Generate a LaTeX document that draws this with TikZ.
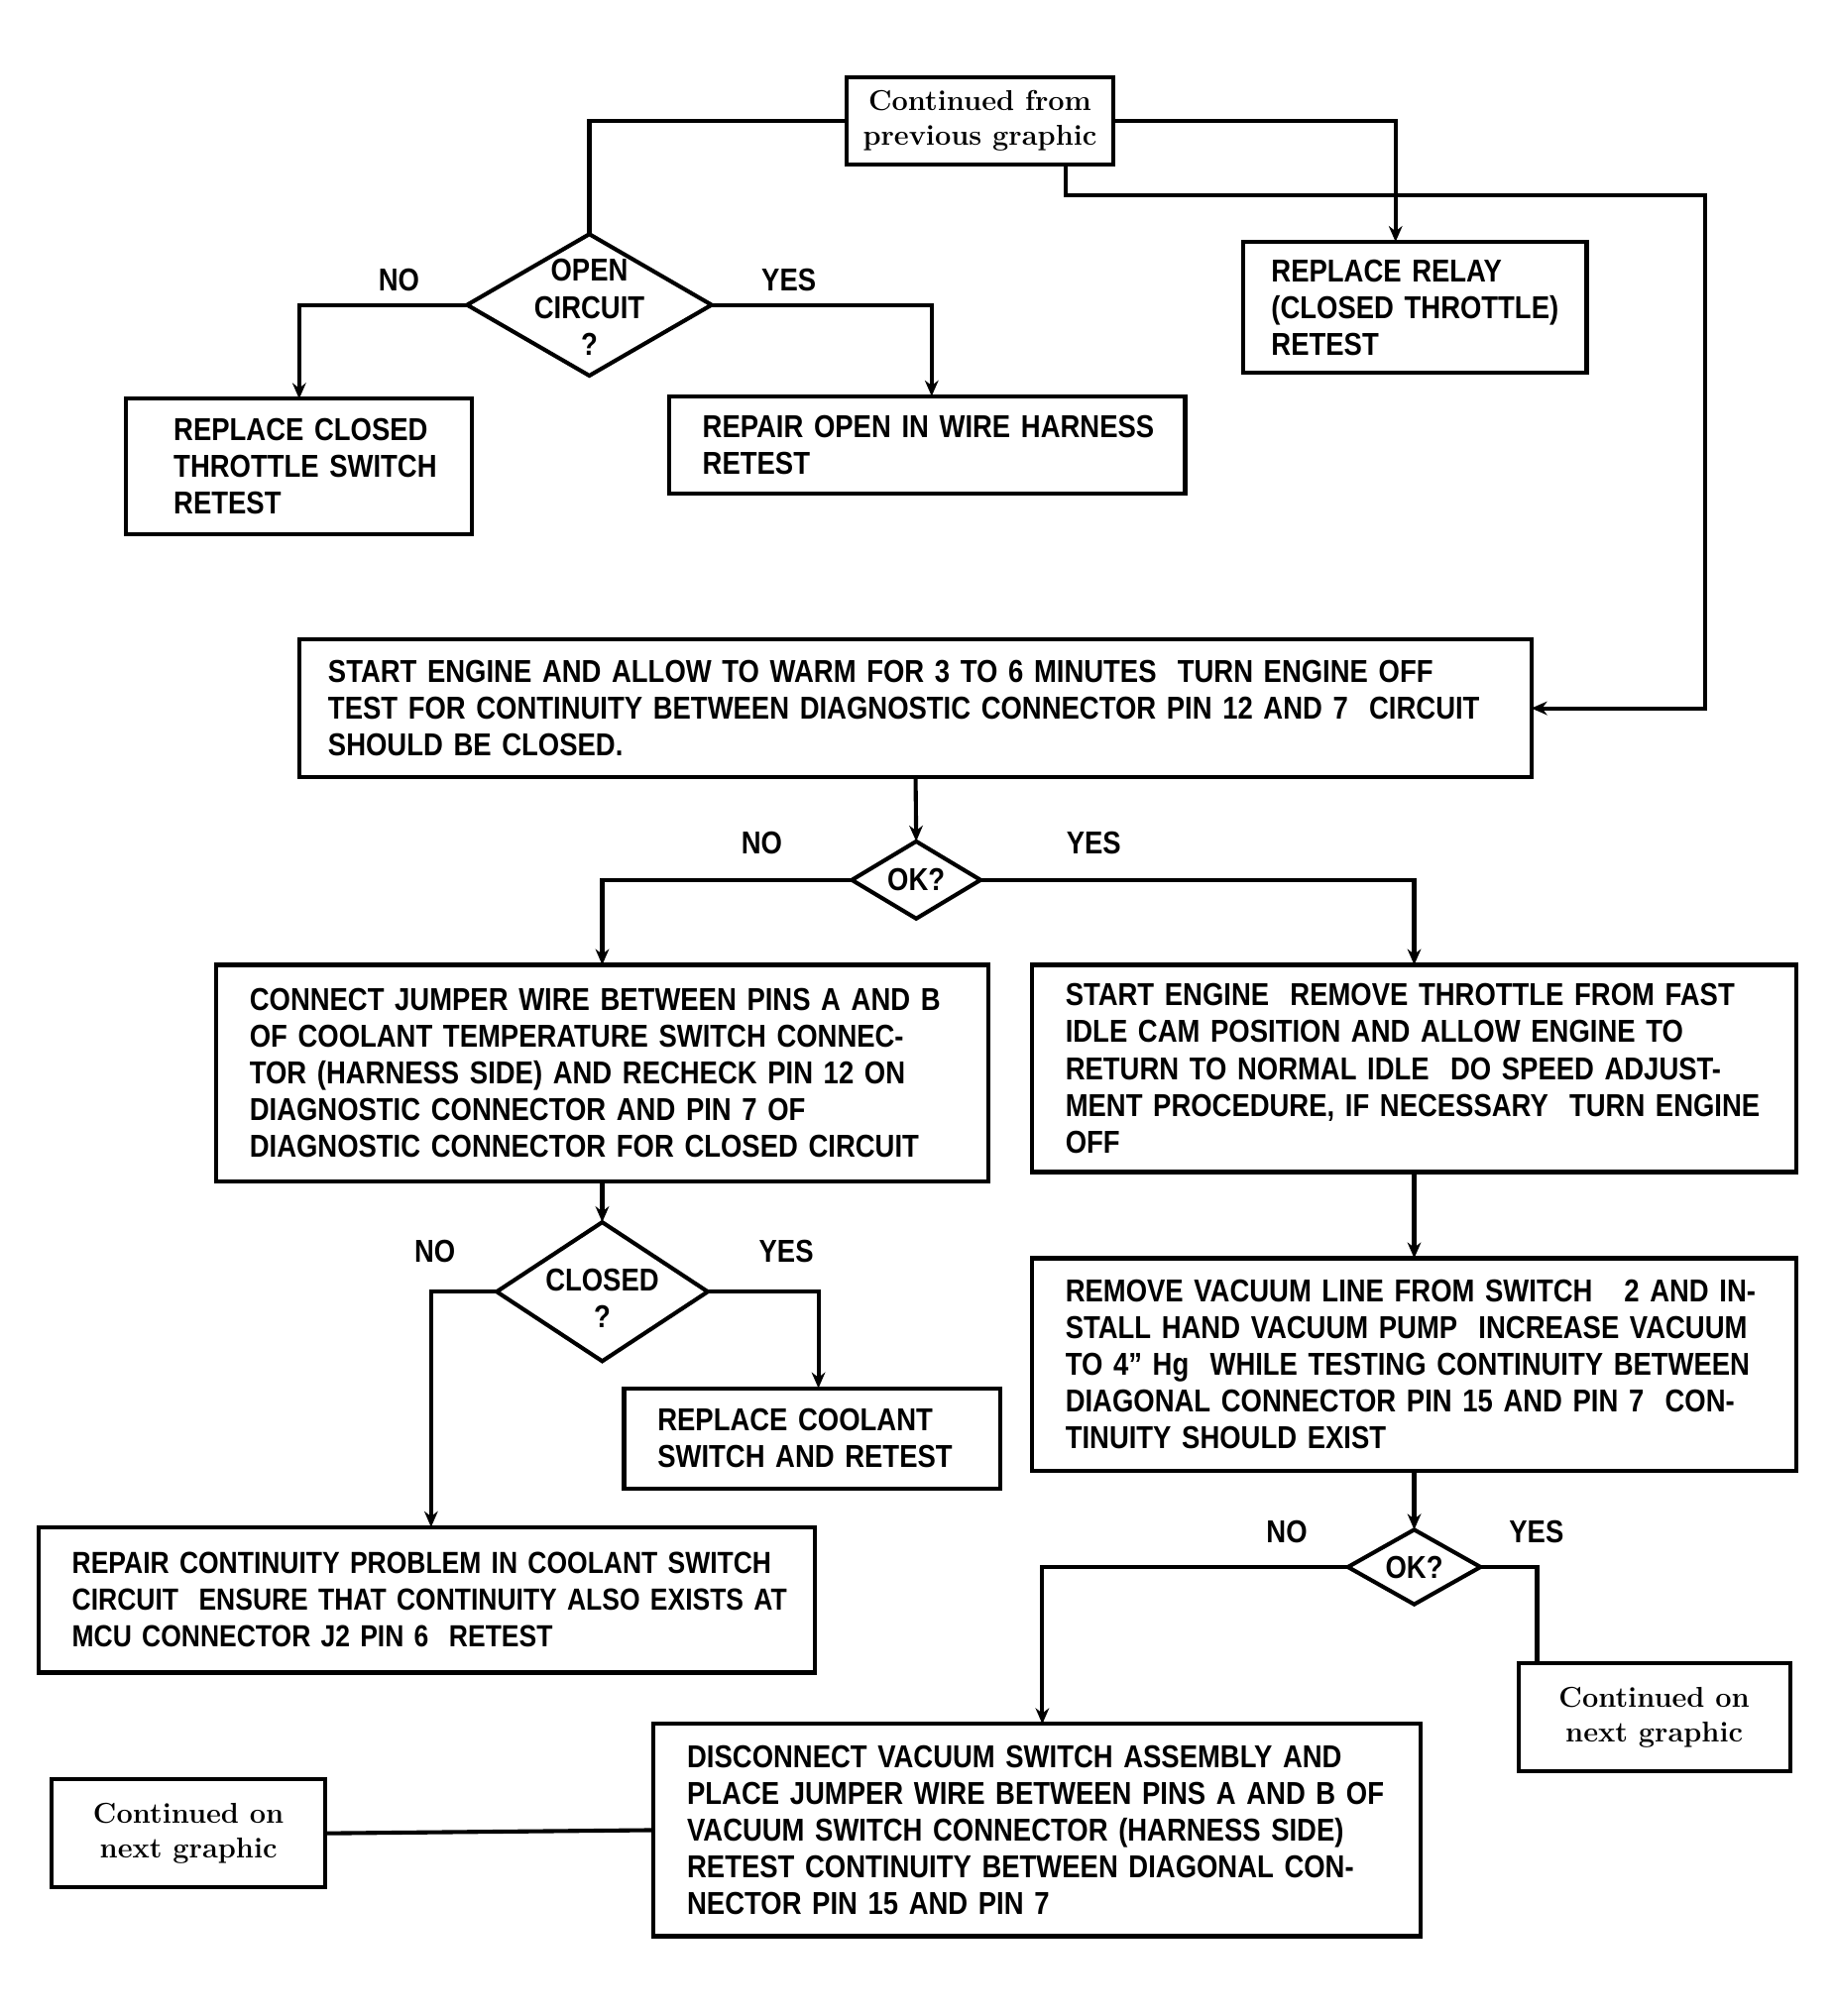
\documentclass[tikz,border=0pt]{standalone}
\usepackage{fontspec}
\usepackage{tikz}
\usetikzlibrary{arrows.meta,shapes.geometric}
\newfontfamily\boxfont{Liberation Sans}[FakeStretch=0.86]
\tikzstyle{stepbox} = [draw=black, fill=white, line width=1.8pt, rectangle, anchor=north west, outer sep=0pt, inner xsep=0.3cm, inner ysep=0pt, align=left, font=\boxfont\bfseries\fontsize{14}{16.3}\selectfont, execute at begin node={\leftskip=0.22cm}]
\tikzstyle{linkbox} = [draw=black, fill=white, line width=1.8pt, rectangle, anchor=north west, outer sep=0pt, inner sep=0pt, align=center, font=\fontseries{bx}\fontsize{12.7}{15.4}\selectfont]
\tikzstyle{decision} = [draw=black, fill=white, line width=1.8pt, diamond, inner sep=0pt, outer sep=0pt]
\tikzstyle{answer} = [font=\boxfont\bfseries\fontsize{14}{16.3}\selectfont]
\tikzstyle{flow} = [line width=1.8pt]
\tikzstyle{arr} = [line width=1.8pt, -{Stealth[length=7pt,width=6pt]}]
\tikzset{
  boxdim/.style 2 args={minimum width=#1*0.02cm, minimum height=#2*0.02cm, text width=(#1-30)*0.02cm},
  linkdim/.style 2 args={minimum width=#1*0.02cm, minimum height=#2*0.02cm},
  diadim/.style 2 args={minimum width=#1*0.02cm, minimum height=#2*0.02cm}
}
\begin{document}
\begin{tikzpicture}[x=0.02cm, y=-0.02cm]
\fill[white] (0,0) rectangle (1425,1567);

\node[linkbox, linkdim={207}{68}] (from) at (658,60) {Continued from\\previous graphic};
\node[decision, diadim={190}{110}, label={[answer, align=center, yshift=-1pt]center:OPEN\\CIRCUIT\\?}] (open) at (458,237) {};
\node[stepbox, boxdim={267}{102}, execute at begin node={\leftskip=0.14cm}] (relay) at (966,188) {REPLACE RELAY\\(CLOSED THROTTLE)\\RETEST};
\node[stepbox, boxdim={269}{105}, execute at begin node={\leftskip=0.44cm}] (rcts) at (98,310) {REPLACE CLOSED\\THROTTLE SWITCH\\RETEST};
\node[stepbox, boxdim={401}{76}] (wire) at (520,308) {REPAIR OPEN IN WIRE HARNESS\\RETEST};
\node[answer] (no1) at (310,218) {NO};
\node[answer] (yes1) at (613,218) {YES};

\node[stepbox, boxdim={957}{107}, execute at begin node={\leftskip=0.14cm}] (start) at (233,497) {START ENGINE AND ALLOW TO WARM FOR 3 TO 6 MINUTES\ \ TURN ENGINE OFF\\TEST FOR CONTINUITY BETWEEN DIAGNOSTIC CONNECTOR PIN 12 AND 7\ \ CIRCUIT\\SHOULD BE CLOSED.};
\node[decision, diadim={100}{60}, label={[answer]center:OK?}] (ok1) at (712,684) {};
\node[answer] (no2) at (592,655) {NO};
\node[answer] (yes2) at (850,655) {YES};

\node[stepbox, boxdim={600}{168}] (jumper) at (168,750) {CONNECT JUMPER WIRE BETWEEN PINS A AND B\\OF COOLANT TEMPERATURE SWITCH CONNEC-\\TOR (HARNESS SIDE) AND RECHECK PIN 12 ON\\DIAGNOSTIC CONNECTOR AND PIN 7 OF\\DIAGNOSTIC CONNECTOR FOR CLOSED CIRCUIT};
\node[stepbox, boxdim={594}{161}] (idle) at (802,750) {START ENGINE\ \ REMOVE THROTTLE FROM FAST\\IDLE CAM POSITION AND ALLOW ENGINE TO\\RETURN TO NORMAL IDLE\ \ DO SPEED ADJUST-\\MENT PROCEDURE, IF NECESSARY\ \ TURN ENGINE\\OFF};

\node[decision, diadim={164}{108}, label={[answer, align=center, yshift=-3pt]center:CLOSED\\?}] (closed) at (468,1004) {};
\node[answer] (no3) at (338,973) {NO};
\node[answer] (yes3) at (611,973) {YES};
\node[stepbox, boxdim={292}{78}] (coolant) at (485,1079) {REPLACE COOLANT\\SWITCH AND RETEST};
\node[stepbox, boxdim={603}{113}, font=\boxfont\bfseries\fontsize{13.5}{16.3}\selectfont] (repair) at (30,1187) {\mbox{REPAIR CONTINUITY PROBLEM IN COOLANT SWITCH}\\\mbox{CIRCUIT\ \ ENSURE THAT CONTINUITY ALSO EXISTS AT}\\MCU CONNECTOR J2 PIN 6\ \ RETEST};

\node[stepbox, boxdim={594}{165}] (vacuum) at (802,978) {REMOVE VACUUM LINE FROM SWITCH\ \ \ 2 AND IN-\\STALL HAND VACUUM PUMP\ \ INCREASE VACUUM\\TO 4” Hg\ \ WHILE TESTING CONTINUITY BETWEEN\\DIAGONAL CONNECTOR PIN 15 AND PIN 7\ \ CON-\\TINUITY SHOULD EXIST};
\node[decision, diadim={103}{58}, label={[answer]center:OK?}] (ok2) at (1099,1218) {};
\node[answer] (no4) at (1000,1191) {NO};
\node[answer] (yes4) at (1194,1191) {YES};
\node[linkbox, linkdim={211}{84}] (next1) at (1180,1293) {Continued on\\next graphic};
\node[stepbox, boxdim={596}{165}] (disc) at (508,1340) {DISCONNECT VACUUM SWITCH ASSEMBLY AND\\PLACE JUMPER WIRE BETWEEN PINS A AND B OF\\VACUUM SWITCH CONNECTOR (HARNESS SIDE)\\RETEST CONTINUITY BETWEEN DIAGONAL CON-\\NECTOR PIN 15 AND PIN 7};
\node[linkbox, linkdim={213}{84}] (next2) at (40,1383) {Continued on\\next graphic};

\coordinate (bend) at (1325,152);
\draw[flow] (from.west) -| (open.north);
\draw[arr] (from.east) -| ([xshift=-0.3cm]relay.north);
\draw[arr] ([xshift=1.34cm]from.south) |- (bend) |- (start.east);
\draw[arr] (open.west) -| (rcts.north);
\draw[arr] (open.east) -| ([xshift=0.07cm]wire.north);
\draw[arr] (start.south) -- (ok1.north);
\draw[arr] (ok1.west) -| (jumper.north);
\draw[arr] (ok1.east) -| (idle.north);
\draw[arr] (jumper.south) -- (closed.north);
\draw[arr] (closed.west) -| ([xshift=0.07cm]repair.north);
\draw[arr] (closed.east) -| ([xshift=0.1cm]coolant.north);
\draw[arr] (idle.south) -- (vacuum.north);
\draw[arr] (vacuum.south) -- (ok2.north);
\draw[arr] (ok2.west) -| ([xshift=0.08cm]disc.north);
\draw[flow] (ok2.east) -| ([xshift=-1.82cm]next1.north);
\draw[flow] (disc.west) -- (next2.east);
\end{tikzpicture}
\end{document}
